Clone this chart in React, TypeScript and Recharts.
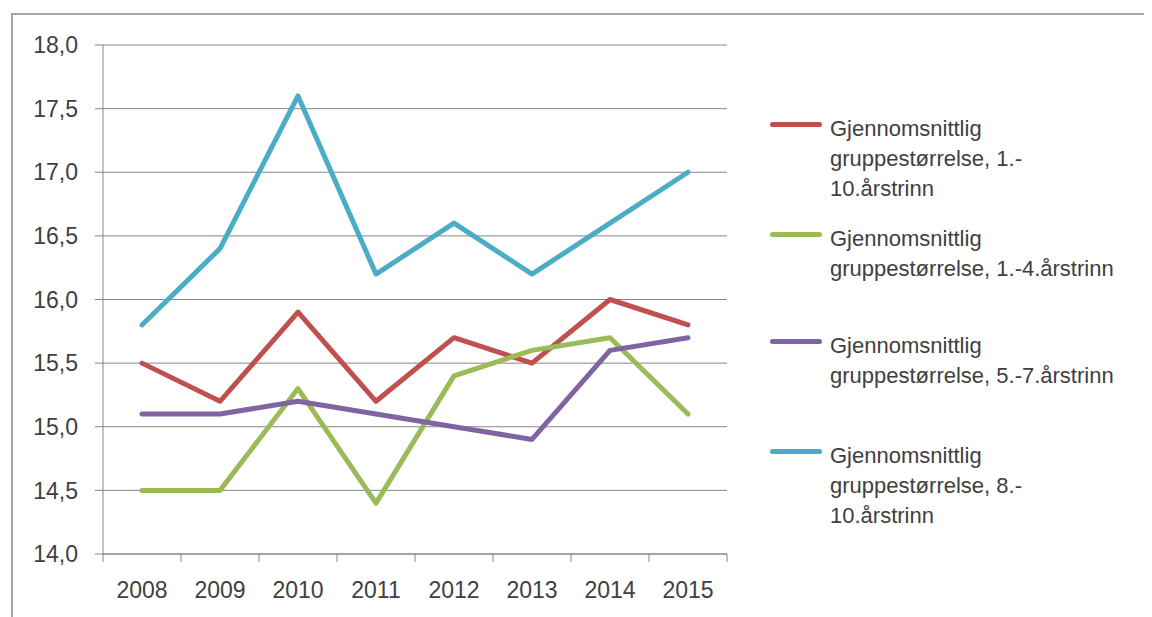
import React from "react";
import { CartesianGrid, Line, LineChart, XAxis, YAxis } from "recharts";

const years = ["2008", "2009", "2010", "2011", "2012", "2013", "2014", "2015"];
const grade1to10 = [15.5, 15.2, 15.9, 15.2, 15.7, 15.5, 16.0, 15.8];
const grade1to4 = [14.5, 14.5, 15.3, 14.4, 15.4, 15.6, 15.7, 15.1];
const grade5to7 = [15.1, 15.1, 15.2, 15.1, 15.0, 14.9, 15.6, 15.7];
const grade8to10 = [15.8, 16.4, 17.6, 16.2, 16.6, 16.2, 16.6, 17.0];
const yTicks = [14, 14.5, 15, 15.5, 16, 16.5, 17, 17.5, 18];

const series = [
  { key: "g1to10", values: grade1to10, color: "#C0504D", lines: ["Gjennomsnittlig", "gruppestørrelse, 1.-", "10.årstrinn"] },
  { key: "g1to4", values: grade1to4, color: "#9BBB59", lines: ["Gjennomsnittlig", "gruppestørrelse, 1.-4.årstrinn"] },
  { key: "g5to7", values: grade5to7, color: "#8064A2", lines: ["Gjennomsnittlig", "gruppestørrelse, 5.-7.årstrinn"] },
  { key: "g8to10", values: grade8to10, color: "#4BACC6", lines: ["Gjennomsnittlig", "gruppestørrelse, 8.-", "10.årstrinn"] }
];

const chartData = years.map((year, i) => {
  const row: Record<string, string | number> = { year };
  series.forEach((s) => (row[s.key] = s.values[i]));
  return row;
});

const FONT = "'Liberation Sans', Arial, sans-serif";
const TEXT = "#404040";
const AXIS = "#868686";
const TICK_SIZE = 8;
const TICK_MARGIN = 20;
const PLOT_WIDTH = 624;
const BAND = PLOT_WIDTH / years.length;

const legendTops = [106, 216, 323, 433];

function YearTick(props: any) {
  const { x, y, payload, index, visibleTicksCount } = props;
  const axisY = y - TICK_SIZE - TICK_MARGIN;
  const left = x - BAND / 2;
  return (
    <g>
      <line x1={left} x2={left} y1={axisY} y2={axisY + TICK_SIZE} stroke={AXIS} />
      {index === visibleTicksCount - 1 && (
        <line x1={left + BAND} x2={left + BAND} y1={axisY} y2={axisY + TICK_SIZE} stroke={AXIS} />
      )}
      <text x={x} y={y} dy="0.71em" textAnchor="middle" fill={TEXT} fontSize={23} fontFamily={FONT}>
        {payload.value}
      </text>
    </g>
  );
}

export default function App() {
  return (
    <div style={{ position: "relative", width: 1144, height: 609, overflow: "hidden", fontFamily: FONT, background: "#fff" }}>
      <div
        style={{
          position: "absolute",
          left: 3,
          top: 5,
          width: 1300,
          height: 800,
          border: "2px solid #a6a6a6"
        }}
      />
      <div style={{ position: "absolute", left: 0, top: 0 }}>
        <LineChart width={1144} height={609} data={chartData} margin={{ top: 37, right: 425, bottom: 0, left: 0 }}>
          <CartesianGrid vertical={false} stroke={AXIS} strokeWidth={1} />
          <XAxis
            dataKey="year"
            height={63}
            padding={{ left: BAND / 2, right: BAND / 2 }}
            axisLine={{ stroke: AXIS }}
            tickLine={false}
            tickSize={TICK_SIZE}
            tickMargin={TICK_MARGIN}
            interval={0}
            tick={<YearTick />}
          />
          <YAxis
            type="number"
            domain={[14, 18]}
            ticks={yTicks}
            width={95}
            axisLine={{ stroke: AXIS }}
            tickLine={{ stroke: AXIS }}
            tickSize={TICK_SIZE}
            tickMargin={17}
            tickFormatter={(v: number) => v.toFixed(1).replace(".", ",")}
            tick={{ fill: TEXT, fontSize: 23, fontFamily: FONT }}
          />
          {series.map((s) => (
            <Line
              key={s.key}
              dataKey={s.key}
              stroke={s.color}
              strokeWidth={5}
              strokeLinejoin="round"
              strokeLinecap="round"
              dot={false}
              activeDot={false}
              isAnimationActive={false}
            />
          ))}
        </LineChart>
      </div>
      {series.map((s, i) => (
        <div key={s.key} style={{ position: "absolute", left: 762, top: legendTops[i] }}>
          <div
            style={{
              position: "absolute",
              left: 0,
              top: 8,
              width: 52,
              height: 5,
              borderRadius: 3,
              background: s.color
            }}
          />
          <div style={{ position: "absolute", left: 60, top: 0, fontSize: 22, lineHeight: "30px", color: TEXT, whiteSpace: "nowrap" }}>
            {s.lines.map((l, j) => (
              <div key={j}>{l}</div>
            ))}
          </div>
        </div>
      ))}
    </div>
  );
}
